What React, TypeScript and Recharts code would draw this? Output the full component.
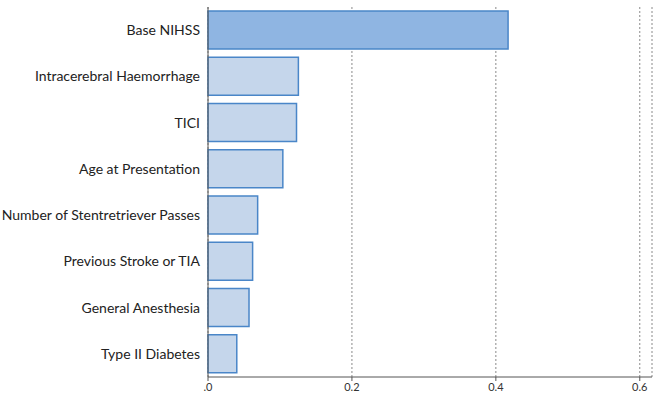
import { BarChart, Bar, XAxis, YAxis, CartesianGrid, Cell } from 'recharts'

const predictors = [
  'Base NIHSS',
  'Intracerebral Haemorrhage',
  'TICI',
  'Age at Presentation',
  'Number of Stentretriever Passes',
  'Previous Stroke or TIA',
  'General Anesthesia',
  'Type II Diabetes',
]

const importance = [0.417, 0.1256, 0.123, 0.104, 0.069, 0.062, 0.057, 0.04]

const xTicks = [0, 0.2, 0.4, 0.6]

const data = predictors.map((name, i) => ({ name, value: importance[i] }))

const fmt = (v: number) => (v === 0 ? '.0' : v.toFixed(1))

export default function App() {
  return (
    <div style={{ position: 'absolute', left: 0, top: 0, background: '#fff' }}>
      <BarChart
        width={658}
        height={400}
        data={data}
        layout="vertical"
        margin={{ top: 7, right: 6, bottom: 0, left: 0 }}
        barSize={38}
      >
        <CartesianGrid
          horizontal={false}
          strokeDasharray="2 2"
          stroke="#8a8a8a"
        />
        <XAxis
          type="number"
          domain={[0, 0.617]}
          ticks={xTicks}
          tickFormatter={fmt}
          height={23}
          stroke="#555"
          tickSize={4}
          tick={{ fontSize: 11, fill: '#333', fontFamily: 'Lato' }}
        />
        <XAxis
          xAxisId="top"
          type="number"
          orientation="top"
          domain={[0, 0.617]}
          height={0}
          tick={false}
          tickLine={false}
          stroke="#555"
        />
        <YAxis
          type="category"
          dataKey="name"
          width={208}
          stroke="#555"
          tickLine={false}
          tickMargin={2}
          tick={{ fontSize: 14, fill: '#222', fontFamily: 'Lato' }}
        />
        <Bar dataKey="value" stroke="#4a86c8" strokeWidth={1.5} isAnimationActive={false}>
          {data.map((d, i) => (
            <Cell key={d.name} fill={i === 0 ? '#8fb5e2' : '#c5d6eb'} />
          ))}
        </Bar>
      </BarChart>
    </div>
  )
}
